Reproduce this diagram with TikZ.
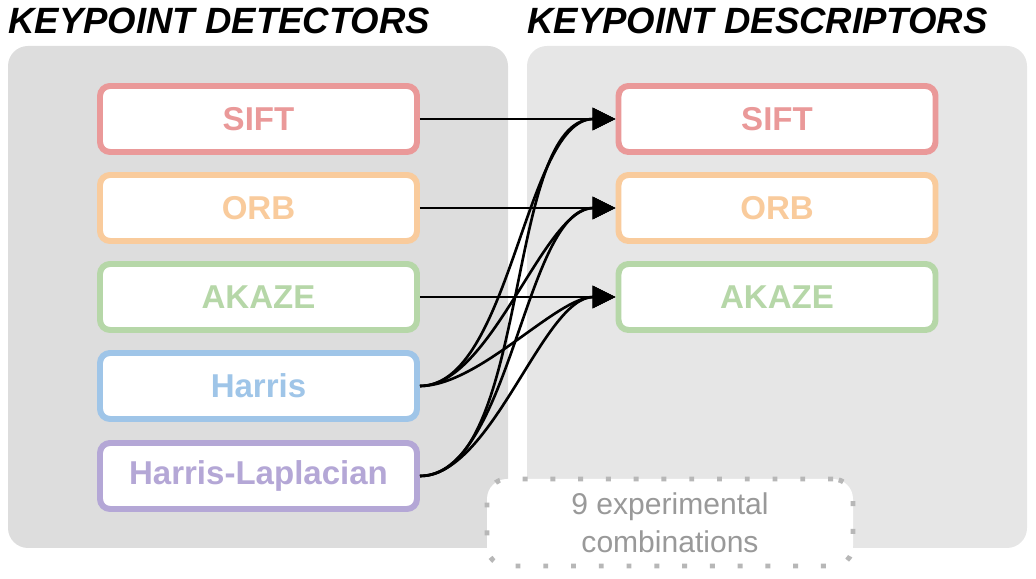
\documentclass[tikz,border=0pt]{standalone}
\usepackage{fontspec}
\setmainfont{Liberation Sans}
\definecolor{siftc}{HTML}{EA9999}
\definecolor{orbc}{HTML}{F9CB9C}
\definecolor{akazec}{HTML}{B6D7A8}
\definecolor{harrisc}{HTML}{9FC5E8}
\definecolor{laplc}{HTML}{B4A7D6}
\definecolor{panelleft}{HTML}{DDDDDD}
\definecolor{panelright}{HTML}{E6E6E6}
\definecolor{notegray}{HTML}{999999}
\definecolor{dotgray}{HTML}{B7B7B7}
\usepackage{tikz}
\usetikzlibrary{arrows.meta, positioning}
\tikzset{
    panelbox/.style={
        rectangle,
        draw=none,
        rounded corners=0.4cm,
        minimum width=10cm,
        minimum height=10.04cm,
        inner sep=0pt
    },
    methodbox/.style={
        rectangle,
        draw,
        fill=white,
        line width=3.4pt,
        rounded corners=0.2cm,
        minimum width=6.34cm,
        minimum height=1.32cm,
        align=center,
        font=\fontsize{18.8}{22}\selectfont\bfseries
    },
    headline/.style={
        anchor=west,
        inner sep=0pt,
        font=\fontsize{20.8}{24}\selectfont\bfseries\itshape
    },
    notebox/.style={
        rectangle,
        draw=dotgray,
        fill=white,
        line width=2.8pt,
        dash pattern=on 2.8pt off 13pt,
        rounded corners=0.4cm,
        minimum width=7.32cm,
        minimum height=1.74cm,
        align=center,
        text=notegray,
        font=\fontsize{17.1}{21.6}\selectfont
    },
    arrowstyle/.style={-{Triangle[length=13pt, width=12.5pt]}, line width=1.5pt, color=black}
}
\begin{document}
\begin{tikzpicture}
      \useasboundingbox (0,0) rectangle (20.72,11.58);
      % panels
      \node[panelbox, fill=panelleft] (pdet) at (5.16,5.64) {};
      \node[panelbox, fill=panelright] (pdesc) at (15.54,5.64) {};
      \node[headline] (tdet) at (0.16,11.17) {KEYPOINT DETECTORS};
      \node[headline] (tdesc) at (10.54,11.17) {KEYPOINT DESCRIPTORS};

      % detectors
      \node[methodbox, draw=siftc, text=siftc] (k1) at (5.17,9.2) {SIFT};
      \node[methodbox, draw=orbc, text=orbc] (k2) at (5.17,7.42) {ORB};
      \node[methodbox, draw=akazec, text=akazec] (k3) at (5.17,5.64) {AKAZE};
      \node[methodbox, draw=harrisc, text=harrisc] (k4) at (5.17,3.86) {Harris};
      \node[methodbox, draw=laplc, text=laplc] (k5) at (5.17,2.06) {Harris-Laplacian};

      % descriptors
      \node[methodbox, draw=siftc, text=siftc] (d1) at (15.54,9.2) {SIFT};
      \node[methodbox, draw=orbc, text=orbc] (d2) at (15.54,7.42) {ORB};
      \node[methodbox, draw=akazec, text=akazec] (d3) at (15.54,5.64) {AKAZE};

      \node[notebox] (note) at (13.4,1.13) {9 experimental\\combinations};

      \draw[arrowstyle] (k1) -- (d1);
      \draw[arrowstyle] (k2) -- (d2);
      \draw[arrowstyle] (k3) -- (d3);
      \draw[arrowstyle] (k4.east) to[out=0, in=180, looseness=0.7] (d1.west);
      \draw[arrowstyle] (k4.east) to[out=0, in=180, looseness=0.7] (d2.west);
      \draw[arrowstyle] (k4.east) to[out=0, in=180, looseness=0.7] (d3.west);
      \draw[arrowstyle] (k5.east) to[out=0, in=180, looseness=0.7] (d1.west);
      \draw[arrowstyle] (k5.east) to[out=0, in=180, looseness=0.7] (d2.west);
      \draw[arrowstyle] (k5.east) to[out=0, in=180, looseness=0.7] (d3.west);
\end{tikzpicture}
\end{document}
